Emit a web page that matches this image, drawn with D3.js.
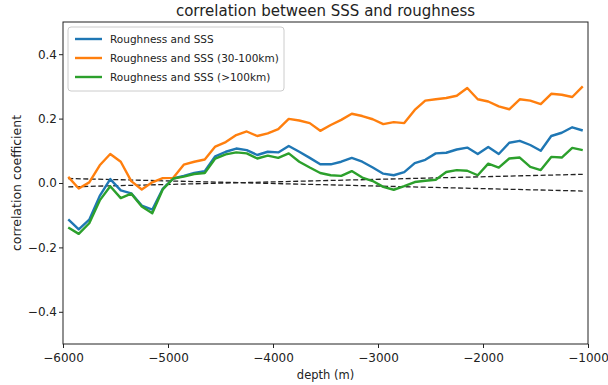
<!DOCTYPE html>
<html lang="en">
<head>
    <meta charset="UTF-8">
    <title>correlation between SSS and roughness</title>
    <script src="https://d3js.org/d3.v7.min.js"></script>
    <style>
        body {
            margin: 0;
            background: #fff;
            font-family: "DejaVu Sans", sans-serif;
        }
        svg {
            display: block;
        }
    </style>
</head>
<body>
    <svg width="608" height="385"></svg>

    <script>
        // depth bins (bin centres, m)
        const depths = d3.range(-5950, -1000, 100);

        const roughSSS = [
            -0.113, -0.144, -0.114, -0.040, 0.012, -0.023, -0.032, -0.070, -0.083, -0.018,
            0.014, 0.022, 0.031, 0.037, 0.083, 0.097, 0.107, 0.102, 0.087, 0.097,
            0.095, 0.115, 0.097, 0.078, 0.058, 0.058, 0.066, 0.078, 0.066, 0.048,
            0.029, 0.024, 0.034, 0.062, 0.072, 0.092, 0.094, 0.104, 0.110, 0.090,
            0.112, 0.090, 0.125, 0.131, 0.118, 0.100, 0.146, 0.156, 0.173, 0.163
        ];
        const rough30to100 = [
            0.019, -0.017, 0.002, 0.055, 0.090, 0.066, 0.006, -0.020, 0.002, 0.015,
            0.016, 0.057, 0.066, 0.073, 0.113, 0.127, 0.149, 0.160, 0.146, 0.154,
            0.167, 0.199, 0.194, 0.186, 0.162, 0.180, 0.196, 0.215, 0.208, 0.198,
            0.183, 0.189, 0.186, 0.227, 0.256, 0.260, 0.264, 0.271, 0.295, 0.260,
            0.253, 0.238, 0.229, 0.260, 0.256, 0.245, 0.277, 0.274, 0.267, 0.300
        ];
        const roughOver100 = [
            -0.138, -0.158, -0.125, -0.054, -0.010, -0.047, -0.033, -0.073, -0.094, -0.020,
            0.014, 0.020, 0.028, 0.031, 0.076, 0.089, 0.095, 0.092, 0.076, 0.085,
            0.078, 0.092, 0.066, 0.048, 0.031, 0.024, 0.022, 0.037, 0.017, 0.006,
            -0.012, -0.021, -0.010, 0.003, 0.007, 0.010, 0.034, 0.040, 0.038, 0.024,
            0.060, 0.048, 0.076, 0.079, 0.050, 0.040, 0.081, 0.079, 0.109, 0.102
        ];

        // dashed significance lines (end points)
        const dashDepths = [-5950, -1050];
        const dashUpper = [0.014, -0.025];
        const dashLower = [-0.012, 0.027];

        const seriesNames = ["Roughness and SSS", "Roughness and SSS (30-100km)", "Roughness and SSS (>100km)"];
        const seriesColors = ["#1f77b4", "#ff7f0e", "#2ca02c"];
        const seriesValues = [roughSSS, rough30to100, roughOver100];

        const xTicks = [-6000, -5000, -4000, -3000, -2000, -1000];
        const yTicks = [-0.4, -0.2, 0.0, 0.2, 0.4];

        const svg = d3.select("svg");
        const margin = { left: 63, right: 20, top: 22, bottom: 41 };
        const width = +svg.attr("width");
        const height = +svg.attr("height");

        const x = d3.scaleLinear().domain([-6000, -1000]).range([margin.left, width - margin.right]);
        const y = d3.scaleLinear().domain([-0.5, 0.5]).range([height - margin.bottom, margin.top]);

        const line = d3.line()
            .x(d => x(d[0]))
            .y(d => y(d[1]));

        // dashed lines
        [dashUpper, dashLower].forEach(vals => {
            svg.append("path")
                .datum(dashDepths.map((d, i) => [d, vals[i]]))
                .attr("d", line)
                .attr("fill", "none")
                .attr("stroke", "#222")
                .attr("stroke-width", 1.3)
                .attr("stroke-dasharray", "5,2.5");
        });

        // series
        seriesValues.forEach((vals, k) => {
            svg.append("path")
                .datum(depths.map((d, i) => [d, vals[i]]))
                .attr("d", line)
                .attr("fill", "none")
                .attr("stroke", seriesColors[k])
                .attr("stroke-width", 2.4)
                .attr("stroke-linejoin", "round");
        });

        // axes
        const xAxis = svg.append("g")
            .attr("transform", `translate(0,${height - margin.bottom})`)
            .call(d3.axisBottom(x).tickValues(xTicks).tickFormat(d3.format("d")).tickSize(4).tickSizeOuter(0));
        const yAxis = svg.append("g")
            .attr("transform", `translate(${margin.left},0)`)
            .call(d3.axisLeft(y).tickValues(yTicks).tickFormat(d3.format(".1f")).tickSize(4).tickSizeOuter(0));

        [xAxis, yAxis].forEach(g => {
            g.select(".domain").remove();
            g.selectAll("line").attr("stroke", "#222");
            g.selectAll("text")
                .attr("fill", "#222")
                .style("font-family", "DejaVu Sans, sans-serif")
                .style("font-size", "12px");
        });
        xAxis.selectAll("text").attr("dy", "1em").attr("y", 6);
        yAxis.selectAll("text").attr("x", -6);

        // frame
        svg.append("rect")
            .attr("x", margin.left)
            .attr("y", margin.top)
            .attr("width", width - margin.left - margin.right)
            .attr("height", height - margin.top - margin.bottom)
            .attr("fill", "none")
            .attr("stroke", "#222")
            .attr("stroke-width", 1);

        // title and labels
        svg.append("text")
            .attr("x", (margin.left + width - margin.right) / 2)
            .attr("y", 16)
            .attr("text-anchor", "middle")
            .style("font-size", "15px")
            .attr("fill", "#222")
            .text("correlation between SSS and roughness");

        svg.append("text")
            .attr("x", (margin.left + width - margin.right) / 2)
            .attr("y", 379)
            .attr("text-anchor", "middle")
            .style("font-size", "11.5px")
            .attr("fill", "#222")
            .text("depth (m)");

        svg.append("text")
            .attr("transform", `translate(21,${(margin.top + height - margin.bottom) / 2}) rotate(-90)`)
            .attr("text-anchor", "middle")
            .style("font-size", "12.5px")
            .attr("fill", "#222")
            .text("correlation coefficient");

        // legend
        const legend = svg.append("g").attr("transform", `translate(${margin.left + 5},${margin.top + 5})`);
        legend.append("rect")
            .attr("width", 216)
            .attr("height", 64)
            .attr("rx", 3)
            .attr("fill", "#fff")
            .attr("fill-opacity", 0.85)
            .attr("stroke", "#ccc");

        seriesNames.forEach((name, k) => {
            const row = legend.append("g").attr("transform", `translate(0,${12 + k * 19})`);
            row.append("line")
                .attr("x1", 7).attr("x2", 34)
                .attr("stroke", seriesColors[k])
                .attr("stroke-width", 2.4);
            row.append("text")
                .attr("x", 42)
                .attr("dy", "0.35em")
                .style("font-size", "10.5px")
                .attr("fill", "#222")
                .text(name);
        });
    </script>
</body>
</html>
